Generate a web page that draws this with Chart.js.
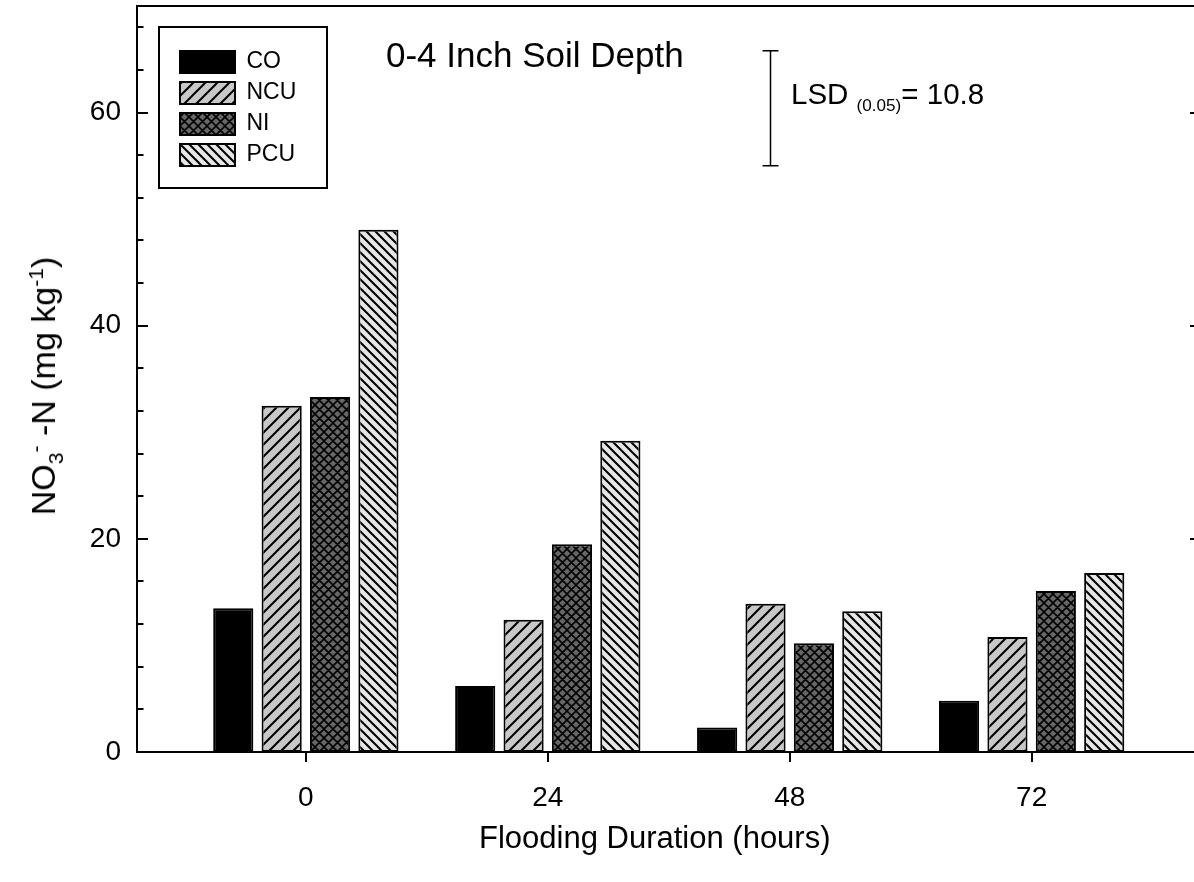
<!DOCTYPE html>
<html><head><meta charset="utf-8">
<script src="https://cdn.jsdelivr.net/npm/chart.js@4.4.1/dist/chart.umd.min.js"></script>
<style>
html,body{margin:0;padding:0;background:#fff;overflow:hidden;width:1194px;height:882px;}
#wrap{position:relative;width:1194px;height:882px;overflow:hidden;font-family:"Liberation Sans",Arial,sans-serif;color:#000;}
#c{position:absolute;left:0;top:0;}
.t{position:absolute;white-space:nowrap;line-height:1;}
.t sub,.t sup{font-size:62%;line-height:0;}
#lsd sub{font-size:58%;}
</style></head>
<body><div id="wrap"><canvas id="c" width="1210" height="882"></canvas>
<div class="t" id="depth" style="left:386px;top:37px;font-size:35px;">0-4 Inch Soil Depth</div>
<div class="t" id="lsd" style="left:791px;top:79px;font-size:29.5px;"></div>
<div class="t" id="xt" style="left:479px;top:822px;font-size:31px;">Flooding Duration (hours)</div>
<div class="t" id="yt" style="left:43px;top:386px;font-size:34px;transform:translate(-50%,-50%) rotate(-90deg);">NO<sub>3</sub><sup>-</sup>&nbsp;-N (mg kg<sup>-1</sup>)</div>
</div>
<script>
// ---- data ----
const hours = [0, 24, 48, 72];
const seriesNames = ['CO', 'NCU', 'NI', 'PCU'];
const CO  = [13.5, 6.2, 2.3, 4.8];
const NCU = [32.5, 12.4, 13.9, 10.8];
const NI  = [33.3, 19.5, 10.2, 15.1];
const PCU = [49.0, 29.2, 13.2, 16.8];
const xTickValues = [0, 24, 48, 72];
const yTickValues = [0, 20, 40, 60];
const lsdValue = 10.8;
const lsdBase = 55;
const lsdAtHour = 46;

document.getElementById('lsd').innerHTML = 'LSD <sub>(0.05)</sub>= ' + lsdValue.toFixed(1);

Chart.defaults.font.family = '"Liberation Sans", Arial, sans-serif';
Chart.defaults.color = '#000';

const canvas = document.getElementById('c');
const ctx = canvas.getContext('2d');

function makePattern(bg, size, dirs, lw) {
  const c = document.createElement('canvas');
  c.width = size; c.height = size;
  const g = c.getContext('2d');
  g.fillStyle = bg; g.fillRect(0, 0, size, size);
  g.strokeStyle = '#000'; g.lineWidth = lw; g.lineCap = 'square';
  g.beginPath();
  for (let k = -1; k <= 1; k++) {
    if (dirs.includes('/')) { g.moveTo(k * size, size); g.lineTo(k * size + size, 0); }
    if (dirs.includes('\\')) { g.moveTo(k * size, 0); g.lineTo(k * size + size, size); }
  }
  g.stroke();
  return ctx.createPattern(c, 'repeat');
}

const fills = [
  '#000000',
  makePattern('#c8c8c8', 12, ['/'], 2),
  makePattern('#666666', 9, ['/', '\\'], 1.6),
  makePattern('#e6e6e6', 9, ['\\'], 2)
];
const seriesValues = [CO, NCU, NI, PCU];

const datasets = seriesNames.map((name, s) => ({
  label: name,
  data: hours.map((h, i) => ({ x: h, y: seriesValues[s][i] })),
  backgroundColor: fills[s],
  borderColor: '#000',
  borderWidth: 2,
  borderSkipped: false,
  categoryPercentage: 0.8,
  barPercentage: 0.83
}));

const decor = {
  id: 'decor',
  afterLayout(chart) {
    const lg = chart.legend, a = chart.chartArea;
    lg.left = a.left + 35;
    lg.top = a.top + 36.5;
  },
  afterDraw(chart) {
    const { ctx, chartArea: a, scales: { x, y } } = chart;
    ctx.save();
    ctx.strokeStyle = '#000';
    ctx.lineWidth = 2;
    // top frame line
    ctx.beginPath(); ctx.moveTo(a.left - 1, a.top); ctx.lineTo(a.right + 1, a.top); ctx.stroke();
    // y ticks, inward on left and right
    ctx.beginPath();
    for (let v = 4; v < y.max; v += 4) {
      const major = yTickValues.includes(v);
      const len = major ? 11 : 6.5;
      const py = Math.round(y.getPixelForValue(v));
      ctx.moveTo(a.left, py); ctx.lineTo(a.left + len, py);
      ctx.moveTo(a.right, py); ctx.lineTo(a.right - len, py);
    }
    // x ticks, outward
    xTickValues.forEach(v => {
      const px = Math.round(x.getPixelForValue(v));
      ctx.moveTo(px, a.bottom); ctx.lineTo(px, a.bottom + 10);
    });
    ctx.stroke();
    // LSD bar
    ctx.lineWidth = 1.5;
    const lx = Math.round(x.getPixelForValue(lsdAtHour)) + 0.5;
    const y1 = y.getPixelForValue(lsdBase), y2 = y.getPixelForValue(lsdBase + lsdValue);
    ctx.beginPath();
    ctx.moveTo(lx, y1); ctx.lineTo(lx, y2);
    ctx.moveTo(lx - 8, y1); ctx.lineTo(lx + 8, y1);
    ctx.moveTo(lx - 8, y2); ctx.lineTo(lx + 8, y2);
    ctx.stroke();
    // legend frame
    const lg = chart.legend;
    ctx.lineWidth = 2;
    ctx.strokeRect(lg.left - 13, lg.top - 15.5, 168, 161);
    ctx.restore();
  }
};

new Chart(canvas, {
  type: 'bar',
  data: { datasets },
  options: {
    responsive: false,
    animation: false,
    devicePixelRatio: 1,
    layout: { padding: { top: 6, right: 9, left: 0, bottom: 0 } },
    plugins: {
      tooltip: { enabled: false },
      legend: {
        position: 'chartArea',
        align: 'start',
        labels: {
          boxWidth: 55, boxHeight: 22, padding: 8,
          color: '#000',
          font: { size: 23 }
        }
      }
    },
    scales: {
      x: {
        type: 'linear',
        min: -16.75, max: 88.8,
        offset: false,
        grid: { display: false, drawTicks: false },
        border: { display: true, color: '#000', width: 2 },
        ticks: { font: { size: 28 }, color: '#000', padding: 29 },
        afterBuildTicks: s => { s.ticks = xTickValues.map(v => ({ value: v })); },
        afterFit: s => { s.height = 130; s.paddingLeft = 0; s.paddingRight = 0; }
      },
      y: {
        min: 0, max: 70,
        grid: { display: false, drawTicks: false },
        border: { display: true, color: '#000', width: 2 },
        ticks: { font: { size: 28 }, color: '#000', padding: 16 },
        afterBuildTicks: s => { s.ticks = yTickValues.map(v => ({ value: v })); },
        afterFit: s => { s.width = 137; s.paddingTop = 0; s.paddingBottom = 0; }
      }
    }
  },
  plugins: [decor]
});
</script>
</body></html>
